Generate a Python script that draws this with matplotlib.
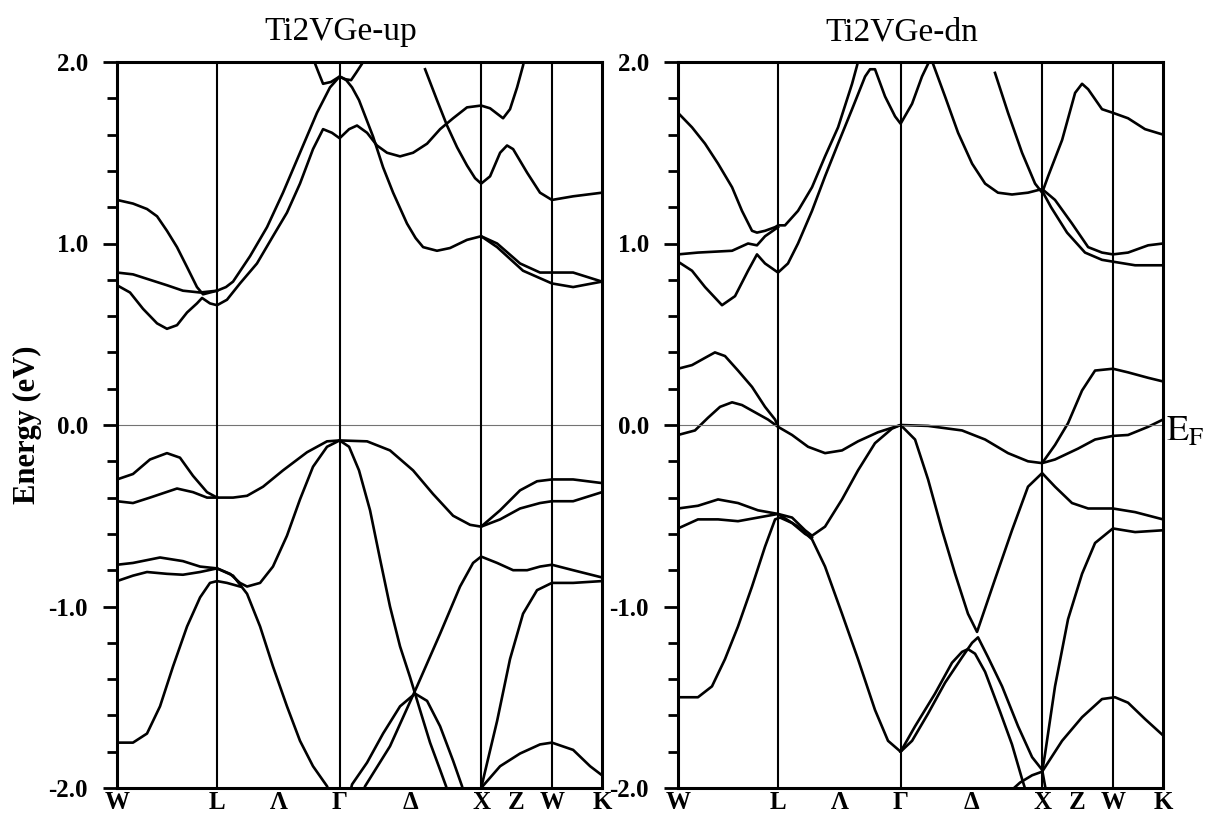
import matplotlib.pyplot as plt
from matplotlib.ticker import MultipleLocator

plt.rcParams['font.family'] = 'Liberation Serif'
plt.rcParams['mathtext.fontset'] = 'stix'
plt.rcParams['axes.unicode_minus'] = False

# high-symmetry points along W-L-G-X-W-K (path length, 2pi/a units)
kpts = [0.0, 0.707, 1.573, 2.573, 3.073, 3.427]
klabels = ['W', 'L', 'Λ', 'Γ', 'Δ', 'X', 'Z', 'W', 'K']
klabel_k = [0.0, 0.707, 1.14, 1.573, 2.073, 2.573, 2.823, 3.073, 3.427]

# ---- spin up bands, (k, E in eV) ----
up_c1 = [(0.0, 1.24), (0.113, 1.22), (0.212, 1.19), (0.283, 1.15), (0.353, 1.07), (0.424, 0.98),
         (0.495, 0.87), (0.565, 0.76), (0.608, 0.72), (0.657, 0.73), (0.707, 0.74), (0.770, 0.76),
         (0.820, 0.79), (0.940, 0.93), (1.060, 1.09), (1.173, 1.28), (1.293, 1.50), (1.413, 1.72),
         (1.505, 1.86), (1.573, 1.92), (1.620, 1.90), (1.661, 1.86), (1.710, 1.79), (1.809, 1.59),
         (1.880, 1.42), (1.951, 1.28), (2.049, 1.11), (2.110, 1.03), (2.163, 0.98), (2.261, 0.96),
         (2.353, 0.975), (2.473, 1.02), (2.573, 1.04), (2.686, 0.98), (2.869, 0.85), (3.073, 0.78),
         (3.223, 0.76), (3.427, 0.79)]
up_c2 = [(0.0, 0.84), (0.113, 0.83), (0.233, 0.80), (0.353, 0.77), (0.466, 0.74), (0.587, 0.73),
         (0.707, 0.74)]
up_c3 = [(0.0, 0.77), (0.092, 0.73), (0.184, 0.64), (0.283, 0.56), (0.353, 0.53), (0.424, 0.55),
         (0.495, 0.62), (0.565, 0.67), (0.601, 0.70), (0.657, 0.67), (0.707, 0.66), (0.777, 0.69),
         (0.869, 0.78), (0.989, 0.89), (1.102, 1.04), (1.201, 1.17), (1.293, 1.33), (1.385, 1.52),
         (1.456, 1.63), (1.519, 1.61), (1.573, 1.58), (1.640, 1.63), (1.696, 1.65), (1.767, 1.61),
         (1.837, 1.54), (1.908, 1.50), (2.000, 1.48), (2.092, 1.50), (2.191, 1.55), (2.283, 1.63),
         (2.375, 1.69), (2.473, 1.75), (2.573, 1.76), (2.636, 1.745), (2.728, 1.69), (2.777, 1.74),
         (2.827, 1.86), (2.869, 1.98), (2.880, 2.02)]
up_c4 = [(1.385, 2.02), (1.420, 1.95), (1.456, 1.88), (1.512, 1.89), (1.573, 1.92), (1.615, 1.905),
         (1.654, 1.90), (1.689, 1.94), (1.731, 1.99), (1.753, 2.03)]
up_c5 = [(2.177, 1.96), (2.261, 1.79), (2.332, 1.65), (2.403, 1.53), (2.473, 1.43), (2.530, 1.36),
         (2.573, 1.33), (2.636, 1.37), (2.707, 1.50), (2.756, 1.54), (2.799, 1.52), (2.898, 1.39),
         (2.989, 1.28), (3.073, 1.24), (3.223, 1.26), (3.427, 1.28)]
up_c6 = [(2.573, 1.04), (2.686, 1.00), (2.848, 0.89), (2.989, 0.84), (3.073, 0.84), (3.223, 0.84),
         (3.427, 0.79)]

up_v1 = [(0.0, -0.30), (0.113, -0.27), (0.233, -0.19), (0.353, -0.155), (0.445, -0.18), (0.537, -0.28),
         (0.636, -0.37), (0.707, -0.40), (0.820, -0.40), (0.919, -0.39), (1.032, -0.34), (1.173, -0.25),
         (1.343, -0.15), (1.484, -0.09), (1.573, -0.085), (1.767, -0.09), (1.929, -0.14), (2.092, -0.25),
         (2.233, -0.38), (2.375, -0.50), (2.495, -0.55), (2.573, -0.56), (2.707, -0.47), (2.848, -0.36),
         (2.968, -0.31), (3.073, -0.30), (3.223, -0.30), (3.427, -0.32)]
up_v2a = [(0.0, -0.42), (0.113, -0.43), (0.233, -0.40), (0.424, -0.35), (0.537, -0.37), (0.636, -0.40),
          (0.707, -0.40)]
up_v2b = [(1.573, -0.085), (1.640, -0.12), (1.710, -0.25), (1.788, -0.47), (1.859, -0.74), (1.929, -1.00),
          (2.000, -1.22), (2.071, -1.39), (2.141, -1.57), (2.212, -1.75), (2.283, -1.90), (2.325, -1.99),
          (2.340, -2.03)]
up_v2c = [(2.573, -0.56), (2.707, -0.52), (2.848, -0.46), (2.989, -0.43), (3.073, -0.42), (3.223, -0.42),
          (3.427, -0.37)]
up_v3 = [(0.0, -0.77), (0.113, -0.76), (0.304, -0.73), (0.466, -0.75), (0.587, -0.78), (0.707, -0.79),
         (0.799, -0.82), (0.869, -0.87), (0.919, -0.89), (1.011, -0.87), (1.102, -0.78), (1.201, -0.61),
         (1.293, -0.41), (1.385, -0.23), (1.484, -0.12), (1.573, -0.085)]
up_v4 = [(0.0, -0.86), (0.113, -0.83), (0.212, -0.81), (0.353, -0.82), (0.466, -0.825), (0.587, -0.81),
         (0.707, -0.79), (0.820, -0.83), (0.919, -0.93), (1.011, -1.11), (1.102, -1.33), (1.201, -1.55),
         (1.293, -1.74), (1.385, -1.88), (1.484, -1.99), (1.500, -2.02)]
up_v5 = [(0.0, -1.75), (0.113, -1.75), (0.212, -1.70), (0.304, -1.55), (0.396, -1.33), (0.495, -1.11),
         (0.587, -0.95), (0.657, -0.87), (0.707, -0.86), (0.777, -0.87), (0.869, -0.89)]
up_v6 = [(1.645, -2.03), (1.661, -1.98), (1.767, -1.86), (1.880, -1.70), (2.000, -1.55), (2.106, -1.48),
         (2.191, -1.52), (2.283, -1.66), (2.375, -1.85), (2.438, -1.99), (2.450, -2.03)]
up_v7 = [(1.735, -2.03), (1.753, -1.99), (1.929, -1.77), (2.120, -1.44), (2.283, -1.15), (2.424, -0.89),
         (2.516, -0.76), (2.573, -0.725), (2.686, -0.76), (2.799, -0.80), (2.898, -0.80), (2.989, -0.78),
         (3.073, -0.77), (3.223, -0.80), (3.427, -0.84)]
up_v8 = [(2.573, -2.0), (2.707, -1.88), (2.848, -1.81), (2.989, -1.76), (3.073, -1.75), (3.223, -1.79),
         (3.343, -1.88), (3.427, -1.93)]
up_v9 = [(2.573, -2.0), (2.686, -1.63), (2.777, -1.29), (2.869, -1.04), (2.968, -0.91), (3.073, -0.87),
         (3.223, -0.87), (3.427, -0.86)]

# ---- spin down bands ----
dn_c1 = [(0.0, 1.72), (0.099, 1.64), (0.191, 1.55), (0.283, 1.44), (0.382, 1.31), (0.452, 1.18),
         (0.523, 1.07), (0.558, 1.06), (0.615, 1.07), (0.686, 1.09), (0.707, 1.10), (0.756, 1.10),
         (0.848, 1.18), (0.947, 1.31), (1.039, 1.48), (1.131, 1.64), (1.230, 1.88), (1.265, 1.98),
         (1.280, 2.03)]
dn_c2 = [(0.0, 0.94), (0.141, 0.95), (0.382, 0.96), (0.495, 1.00), (0.558, 0.99), (0.615, 1.04),
         (0.707, 1.09)]
dn_c3 = [(0.0, 0.90), (0.099, 0.85), (0.191, 0.76), (0.311, 0.66), (0.403, 0.71), (0.495, 0.85),
         (0.558, 0.94), (0.615, 0.89), (0.707, 0.84), (0.777, 0.89), (0.848, 1.00), (0.947, 1.18),
         (1.039, 1.37), (1.131, 1.55), (1.230, 1.74), (1.322, 1.92), (1.357, 1.96), (1.392, 1.96),
         (1.463, 1.81), (1.534, 1.70), (1.573, 1.66), (1.654, 1.77), (1.724, 1.92), (1.767, 1.99),
         (1.781, 2.03)]
dn_c4 = [(1.788, 2.02), (1.802, 1.99), (1.887, 1.81), (1.979, 1.61), (2.078, 1.44), (2.170, 1.33),
         (2.261, 1.28), (2.360, 1.27), (2.473, 1.28), (2.573, 1.30), (2.664, 1.24), (2.784, 1.11),
         (2.898, 0.98), (2.996, 0.95), (3.073, 0.94), (3.180, 0.95), (3.322, 0.99), (3.427, 1.00)]
dn_c5 = [(2.240, 1.94), (2.332, 1.72), (2.431, 1.50), (2.523, 1.33), (2.573, 1.28), (2.615, 1.37),
         (2.714, 1.57), (2.806, 1.83), (2.855, 1.88), (2.898, 1.85), (2.996, 1.74), (3.073, 1.72),
         (3.180, 1.69), (3.300, 1.63), (3.427, 1.60)]
dn_c6 = [(2.573, 1.29), (2.636, 1.20), (2.749, 1.06), (2.876, 0.95), (2.996, 0.91), (3.073, 0.90),
         (3.230, 0.88), (3.427, 0.88)]

dn_v1 = [(0.0, 0.31), (0.099, 0.33), (0.191, 0.37), (0.261, 0.40), (0.332, 0.38), (0.424, 0.30),
         (0.523, 0.21), (0.615, 0.10), (0.686, 0.03), (0.707, -0.01)]
dn_v2 = [(0.0, -0.055), (0.120, -0.03), (0.212, 0.04), (0.297, 0.10), (0.382, 0.125), (0.452, 0.11),
         (0.544, 0.07), (0.636, 0.03), (0.707, -0.01), (0.806, -0.055), (0.919, -0.12), (1.039, -0.155),
         (1.159, -0.14), (1.272, -0.09), (1.413, -0.04), (1.573, 0.0), (1.767, -0.005), (2.007, -0.03),
         (2.170, -0.08), (2.332, -0.155), (2.473, -0.20), (2.573, -0.21), (2.664, -0.11), (2.756, 0.01),
         (2.855, 0.19), (2.947, 0.30), (3.073, 0.31), (3.180, 0.29), (3.322, 0.26), (3.427, 0.24)]
dn_v3 = [(2.573, -0.21), (2.664, -0.19), (2.827, -0.13), (2.947, -0.08), (3.073, -0.06), (3.180, -0.055),
         (3.322, -0.01), (3.427, 0.03)]
dn_v4 = [(0.0, -0.46), (0.141, -0.445), (0.283, -0.41), (0.424, -0.43), (0.565, -0.47), (0.707, -0.49),
         (0.806, -0.51), (0.898, -0.58), (0.947, -0.61), (1.039, -0.56), (1.159, -0.41), (1.272, -0.25),
         (1.392, -0.10), (1.512, -0.02), (1.573, 0.0), (1.675, -0.08), (1.767, -0.30), (1.866, -0.58),
         (1.958, -0.82), (2.049, -1.04), (2.113, -1.14), (2.240, -0.85), (2.360, -0.58), (2.473, -0.34),
         (2.573, -0.265), (2.664, -0.34), (2.784, -0.43), (2.898, -0.46), (3.073, -0.46), (3.230, -0.48),
         (3.427, -0.52)]
dn_v5 = [(0.0, -0.57), (0.141, -0.52), (0.283, -0.52), (0.424, -0.53), (0.565, -0.51), (0.707, -0.49),
         (0.848, -0.56), (0.947, -0.63), (1.039, -0.78), (1.159, -1.04), (1.272, -1.29), (1.392, -1.57),
         (1.484, -1.74), (1.573, -1.80)]
dn_v6 = [(0.0, -1.50), (0.141, -1.50), (0.240, -1.44), (0.332, -1.29), (0.424, -1.11), (0.523, -0.89),
         (0.615, -0.67), (0.686, -0.52), (0.721, -0.51), (0.806, -0.54), (0.898, -0.60), (0.947, -0.62)]
dn_v7 = [(1.573, -1.80), (1.675, -1.66), (1.816, -1.48), (1.936, -1.31), (2.007, -1.25), (2.049, -1.235),
         (2.099, -1.26), (2.170, -1.36), (2.276, -1.58), (2.360, -1.76), (2.431, -1.95), (2.459, -2.02)]
dn_v8 = [(1.573, -1.80), (1.654, -1.74), (1.767, -1.59), (1.887, -1.42), (2.007, -1.28), (2.078, -1.20),
         (2.120, -1.17), (2.191, -1.28), (2.290, -1.44), (2.403, -1.66), (2.502, -1.83), (2.573, -1.90),
         (2.601, -2.02)]
dn_v9 = [(2.346, -2.02), (2.417, -1.97), (2.502, -1.93), (2.573, -1.91), (2.594, -1.81), (2.664, -1.44),
         (2.756, -1.07), (2.855, -0.82), (2.947, -0.65), (3.073, -0.57), (3.230, -0.59), (3.427, -0.58)]
dn_v10 = [(2.573, -1.91), (2.714, -1.74), (2.855, -1.61), (2.996, -1.51), (3.088, -1.50), (3.180, -1.53),
          (3.300, -1.62), (3.427, -1.71)]

up_bands = [up_c1, up_c2, up_c3, up_c4, up_c5, up_c6, up_v1, up_v2a, up_v2b, up_v2c,
            up_v3, up_v4, up_v5, up_v6, up_v7, up_v8, up_v9]
dn_bands = [dn_c1, dn_c2, dn_c3, dn_c4, dn_c5, dn_c6, dn_v1, dn_v2, dn_v3, dn_v4,
            dn_v5, dn_v6, dn_v7, dn_v8, dn_v9, dn_v10]


def draw_panel(ax, bands, title):
    for band in bands:
        k, e = zip(*band)
        ax.plot(k, e, color='black', lw=1.9, solid_joinstyle='round')
    ax.axhline(0, color='0.45', lw=0.8)
    for kp in kpts[1:-1]:
        ax.axvline(kp, color='black', lw=1.5)
    ax.set_xlim(kpts[0], kpts[-1])
    ax.set_ylim(-2, 2)
    ax.set_xticks(klabel_k)
    ax.set_xticklabels(klabels, fontweight='bold', fontsize=18)
    ax.tick_params(axis='x', length=0, pad=2)
    ax.set_yticks([-2, -1, 0, 1, 2])
    ax.set_yticklabels(['-2.0', '-1.0', '0.0', '1.0', '2.0'], fontweight='bold', fontsize=18)
    ax.yaxis.set_minor_locator(MultipleLocator(0.2))
    ax.tick_params(axis='y', which='major', direction='out', length=10, width=2, pad=11)
    ax.tick_params(axis='y', which='minor', direction='out', length=7, width=2)
    for s in ax.spines.values():
        s.set_linewidth(2.2)
    ax.text(0.462, 1.03, title, transform=ax.transAxes, ha='center', va='baseline', fontsize=24)


fig = plt.figure(figsize=(12.07, 8.19), dpi=100)
ax1 = fig.add_axes([117 / 1207, 31 / 819, 485 / 1207, 726 / 819])
ax2 = fig.add_axes([678 / 1207, 31 / 819, 485 / 1207, 726 / 819])

draw_panel(ax1, up_bands, 'Ti2VGe-up')
draw_panel(ax2, dn_bands, 'Ti2VGe-dn')

ax1.set_ylabel('Energy (eV)', fontsize=22, fontweight='bold')
ax1.yaxis.set_label_coords(-0.155, 0.5)

fig.text(1166 / 1207, (819 - 432) / 819, r'$\mathrm{E_F}$', fontsize=26, va='center', ha='left')

fig.savefig('out.png', dpi=100)
